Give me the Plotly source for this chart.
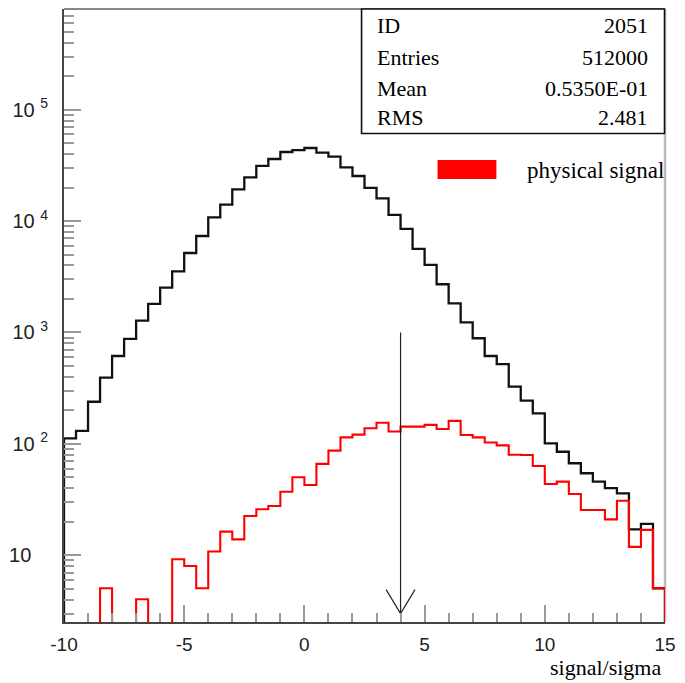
import plotly.graph_objects as go

# ---- data ----
bin_lo = -10.0
bin_width = 0.5
total_counts = [112, 131, 239, 393, 615, 875, 1277, 1803, 2525, 3540,
                5170, 7350, 10800, 14030, 19300, 24700, 31250, 36100, 41700, 43400,
                45300, 41100, 37900, 30400, 25400, 19900, 16000, 11350, 8500, 5620,
                4040, 2710, 1828, 1235, 888, 615, 520, 326, 245, 188,
                101, 85, 67, 54.5, 45.8, 40, 36, 17.1, 19.1, 5.06]
signal_counts = [0, 0, 0, 5.06, 0, 0, 4.03, 0, 0, 9.2,
                 8.0, 5.06, 10.8, 16.3, 13.9, 22.5, 25.9, 27.7, 37.2, 50.1,
                 42.8, 66.1, 87, 114.5, 121, 138, 155, 129, 143, 143,
                 148, 136, 161, 120, 114.5, 103, 97, 80, 79.4, 63.4,
                 43.6, 45.8, 35.5, 25.5, 25.5, 21.0, 30.9, 11.9, 16.9, 5.06]
x_ticks = [-10, -5, 0, 5, 10, 15]
y_ticks = [10, 100, 1000, 10000, 100000]
y_ticktext = ["10\u00a0\u00a0\u00a0", "10 <sup>2</sup>", "10 <sup>3</sup>", "10 <sup>4</sup>", "10 <sup>5</sup>"]
stats_labels = ["ID", "Entries", "Mean", "RMS"]
stats_values = ["2051", "512000", "0.5350E-01", "2.481"]
cut_value = 4.0
arrow_top = 1000
arrow_bottom = 3
legend_label = "physical signal"
x_title = "signal/sigma"

FLOOR = 1e-3


def step_xy(counts):
    n = len(counts)
    edges = [bin_lo + i * bin_width for i in range(n + 1)]
    xs = [edges[0]] + edges
    ys = [FLOOR] + [c if c > 0 else FLOOR for c in counts] + [FLOOR]
    return xs, ys


fig = go.Figure()
bx, by = step_xy(total_counts)
fig.add_trace(go.Scatter(x=bx, y=by, mode="lines", line=dict(color="#111111", width=2.3, shape="hv"),
                         showlegend=False, hoverinfo="skip"))
rx, ry = step_xy(signal_counts)
fig.add_trace(go.Scatter(x=rx, y=ry, mode="lines", line=dict(color="#ff0000", width=2.1, shape="hv"),
                         showlegend=False, hoverinfo="skip"))

# arrow marking the cut
fig.add_trace(go.Scatter(x=[cut_value, cut_value], y=[arrow_top, arrow_bottom], mode="lines",
                         line=dict(color="#222222", width=1.2), showlegend=False, hoverinfo="skip"))
head_dx = 0.6
head_fac = 1.64
fig.add_trace(go.Scatter(x=[cut_value - head_dx, cut_value, cut_value + head_dx],
                         y=[arrow_bottom * head_fac, arrow_bottom, arrow_bottom * head_fac], mode="lines",
                         line=dict(color="#222222", width=1.2), showlegend=False, hoverinfo="skip"))

W, H = 685, 683
L, R, T, B = 59, 13, 9, 61
pw, ph = W - L - R, H - T - B


def px(x):
    return (x - L) / pw


def py(y):
    return (H - B - y) / ph


shapes = []
# top and right frame lines
shapes.append(dict(type="line", xref="paper", yref="paper", x0=0, x1=1, y0=1, y1=1,
                   line=dict(color="#888888", width=2), layer="below"))
shapes.append(dict(type="line", xref="paper", yref="paper", x0=1, x1=1, y0=0, y1=1,
                   line=dict(color="#bbbbbb", width=2.5), layer="below"))
# stats box
shapes.append(dict(type="rect", xref="paper", yref="paper", x0=px(362.5), x1=px(671.5), y0=py(133.5), y1=py(9),
                   line=dict(color="#111111", width=1.6), fillcolor="white", layer="above"))
# legend swatch
shapes.append(dict(type="rect", xref="paper", yref="paper", x0=px(440), x1=px(500), y0=py(179), y1=py(160),
                   line=dict(width=0), fillcolor="#ff0000"))

serif = dict(family="Liberation Serif", size=22, color="black")
annotations = []
row_y = [26, 57, 88, 118]
for lab, val, yy in zip(stats_labels, stats_values, row_y):
    annotations.append(dict(xref="paper", yref="paper", x=px(376), y=py(yy), text=lab, showarrow=False,
                            xanchor="left", yanchor="middle", font=serif))
    annotations.append(dict(xref="paper", yref="paper", x=px(657), y=py(yy), text=val, showarrow=False,
                            xanchor="right", yanchor="middle", font=serif))
annotations.append(dict(xref="paper", yref="paper", x=px(529), y=py(170), text=legend_label, showarrow=False,
                        xanchor="left", yanchor="middle", font=dict(family="Liberation Serif", size=23, color="black")))
annotations.append(dict(xref="paper", yref="paper", x=px(670), y=py(668), text=x_title, showarrow=False,
                        xanchor="right", yanchor="middle", font=dict(family="Liberation Serif", size=22, color="black")))

fig.update_layout(
    width=W, height=H,
    margin=dict(l=L, r=R, t=T, b=B, pad=0),
    paper_bgcolor="white", plot_bgcolor="white",
    shapes=shapes, annotations=annotations,
    xaxis=dict(range=[-10, 15], tickvals=x_ticks, ticktext=[str(v) for v in x_ticks],
               ticks="inside", ticklen=17, tickwidth=1.5, tickcolor="#999999",
               showline=True, linecolor="#444444", linewidth=2, showgrid=False, zeroline=False,
               ticklabelstandoff=4,
               tickfont=dict(family="Liberation Sans", size=19, color="#222222"),
               minor=dict(ticks="inside", ticklen=9, dtick=1, tick0=0, tickwidth=1.5, tickcolor="#999999", showgrid=False)),
    yaxis=dict(type="log", range=[0.401, 5.904], tickvals=y_ticks, ticktext=y_ticktext,
               ticks="inside", ticklen=17, tickwidth=1.5, tickcolor="#999999",
               showline=True, linecolor="#444444", linewidth=2, showgrid=False, zeroline=False,
               ticklabelstandoff=10,
               tickfont=dict(family="Liberation Sans", size=20, color="#222222"),
               minor=dict(ticks="inside", ticklen=10, dtick="D1", tickwidth=1.5, tickcolor="#999999", showgrid=False)),
)

fig.write_html("out.html")
